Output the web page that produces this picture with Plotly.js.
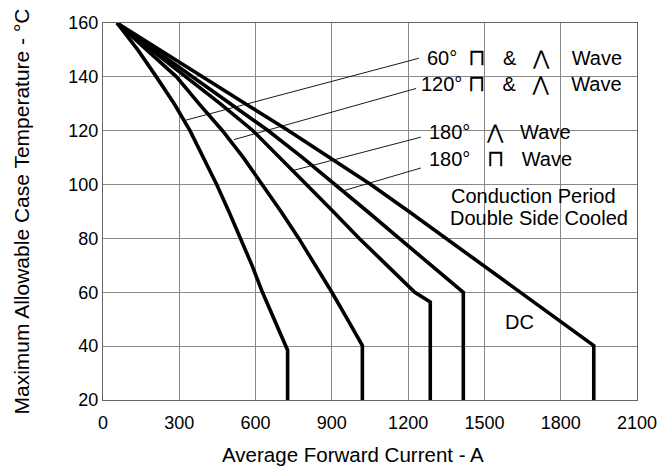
<!DOCTYPE html>
<html>
<head>
<meta charset="utf-8">
<script src="https://cdn.plot.ly/plotly-3.0.1.min.js"></script>
<style>html,body{margin:0;padding:0;background:#fff;}#chart{width:665px;height:466px;}</style>
</head>
<body>
<div id="chart"></div>
<script>
// Average forward current (A) and max allowable case temperature (°C)
const current60 = [55, 137, 210, 280, 342, 395, 447, 495, 541, 586, 627, 677, 726, 726];
const temp60    = [160, 150, 140, 130, 120, 110, 100, 90, 80, 70, 60, 49, 38.5, 20];

const current120 = [55, 170, 289, 378, 470, 552, 627, 700, 770, 837, 900, 961, 1020, 1020];
const temp120    = [160, 150, 140, 130, 120, 110, 100, 90, 80, 70, 60, 50, 40.2, 20];

const current180sine = [55, 192, 330, 462, 590, 697, 800, 905, 1008, 1117, 1226, 1287, 1287];
const temp180sine    = [160, 150, 140, 130, 120, 110, 100, 90, 80, 70, 60, 56.4, 20];

const current180sq = [55, 205, 355, 503, 650, 785, 915, 1040, 1165, 1290, 1417, 1417];
const temp180sq    = [160, 150, 140, 130, 120, 110, 100, 90, 80, 70, 60, 20];

const currentDC = [55, 222, 390, 560, 730, 893, 1053, 1203, 1350, 1495, 1640, 1785, 1930, 1930];
const tempDC    = [160, 150, 140, 130, 120, 110, 100, 90, 80, 70, 60, 50, 40.2, 20];

const xTicks = [0, 300, 600, 900, 1200, 1500, 1800, 2100];
const yTicks = [20, 40, 60, 80, 100, 120, 140, 160];

const S = (n) => "\u00A0".repeat(n);
const SQ = '<span style="font-family:DejaVu Sans;font-size:23px">⊓</span>';
const SN = '<span style="font-family:DejaVu Sans;font-size:20px">⋀</span>';
const labels = [
  "60°" + S(2) + SQ + S(3) + "&" + S(3) + SN + S(4) + "Wave",
  "120°" + S(1) + SQ + S(3) + "&" + S(3) + SN + S(4) + "Wave",
  "180°" + S(3) + SN + S(3) + "Wave",
  "180°" + S(3) + SQ + S(3) + "Wave",
  "Conduction Period",
  "Double Side Cooled",
  "DC"
];

const FONT = "Liberation Sans, Arial, Helvetica, sans-serif";
const line = {color: "#000", width: 3.6};
const mk = (x, y) => ({x: x, y: y, type: "scatter", mode: "lines", line: line, hoverinfo: "skip", showlegend: false});

const traces = [
  mk(current60, temp60),
  mk(current120, temp120),
  mk(current180sine, temp180sine),
  mk(current180sq, temp180sq),
  mk(currentDC, tempDC)
];

const txt = (text, x, y, xanchor) => ({text: text, x: x, y: y, xref: "x", yref: "y",
  xanchor: xanchor || "left", yanchor: "middle", showarrow: false,
  font: {family: FONT, size: 20, color: "#000"}});
const leader = (x, y, ax, ay) => ({text: " ", x: x, y: y, ax: ax, ay: ay, xref: "x", yref: "y",
  axref: "x", ayref: "y", showarrow: true, arrowhead: 0, arrowwidth: 0.9, arrowcolor: "#000",
  standoff: 0, startstandoff: 0});

const annotations = [
  txt(labels[0], 1266, 147.5),
  txt(labels[1], 1243, 137.7),
  txt(labels[2], 1274, 119.4),
  txt(labels[3], 1274, 110.0),
  txt(labels[4], 1361, 95.7),
  txt(labels[5], 1357, 87.5),
  txt(labels[6], 1637, 48.8, "center"),
  leader(325, 123.9, 1258, 147.3),
  leader(515, 116.7, 1247, 136.1),
  leader(750, 105.3, 1266, 118.0),
  leader(945, 97.7, 1266, 106.6)
];

const layout = {
  width: 665, height: 466,
  margin: {l: 103, r: 28, t: 23, b: 66},
  paper_bgcolor: "#fff", plot_bgcolor: "#fff",
  font: {family: FONT, size: 18, color: "#000"},
  xaxis: {
    range: [0, 2100], tickvals: xTicks, ticktext: xTicks.map(String),
    showgrid: true, gridcolor: "#888", gridwidth: 1,
    showline: true, linecolor: "#666", linewidth: 1, mirror: true,
    ticks: "", zeroline: false, ticklabelstandoff: 6,
    tickfont: {family: FONT, size: 18, color: "#000"},
    title: {text: "Average Forward Current - A" + S(6) + "\u200B", font: {family: FONT, size: 20.5, color: "#000"}, standoff: 18}
  },
  yaxis: {
    range: [20, 160], tickvals: yTicks, ticktext: yTicks.map(String),
    showgrid: true, gridcolor: "#888", gridwidth: 1,
    showline: true, linecolor: "#666", linewidth: 1, mirror: true,
    ticks: "", zeroline: false,
    tickfont: {family: FONT, size: 18, color: "#000"},
    title: {text: "Maximum Allowable Case Temperature - °C", font: {family: FONT, size: 21, color: "#000"}, standoff: 33}
  },
  annotations: annotations
};

Plotly.newPlot("chart", traces, layout, {displayModeBar: false, staticPlot: true});
</script>
</body>
</html>
